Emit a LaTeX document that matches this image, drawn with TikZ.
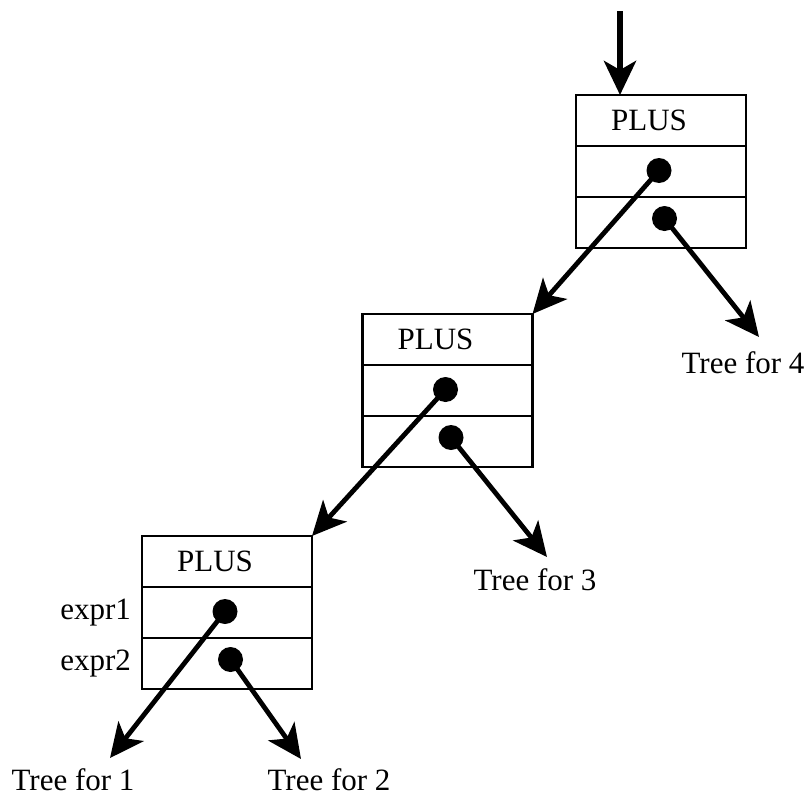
\documentclass[tikz,border=0pt]{standalone}
\usepackage{fontspec}
\setmainfont{Liberation Serif}
\usetikzlibrary{arrows.meta, positioning}

\tikzset{
  cell/.style={draw, line width=1.4pt, minimum width=85pt, minimum height=25.5pt, inner sep=0pt, outer sep=0pt},
  dot/.style={circle, fill, inner sep=0pt, minimum size=12.5pt},
  ptr/.style={line width=2.4pt, -{Stealth[length=17pt, width=16pt, inset=4.5pt]}},
  txt/.style={font=\fontsize{15.5}{18}\selectfont}
}

\begin{document}
\begin{tikzpicture}[x=0.5pt, y=-0.5pt]
  \useasboundingbox (0,0) rectangle (810,798);

  % three PLUS records, each with three cells
  \node[cell, label={[txt, xshift=-6pt]center:PLUS}] (a1) at (661,120.5) {};
  \node[cell, below=0pt of a1] (a2) {};
  \node[cell, below=0pt of a2] (a3) {};
  \node[cell, label={[txt, xshift=-6pt]center:PLUS}] (b1) at (447.5,339.5) {};
  \node[cell, below=0pt of b1] (b2) {};
  \node[cell, below=0pt of b2] (b3) {};
  \node[cell, label={[txt, xshift=-6pt]center:PLUS}] (c1) at (227,561.5) {};
  \node[cell, below=0pt of c1] (c2) {};
  \node[cell, below=0pt of c2] (c3) {};
  \node[txt, left=2pt of c2] (x1) {expr1};
  \node[txt, left=2pt of c3] (x2) {expr2};

  % pointer fields
  \node[dot] (a2d) at ([shift={(-1pt,0.5pt)}]a2.center) {};
  \node[dot] (a3d) at ([shift={(1.75pt,2pt)}]a3.center) {};
  \node[dot] (b2d) at ([shift={(-1pt,0.5pt)}]b2.center) {};
  \node[dot] (b3d) at ([shift={(1.75pt,2pt)}]b3.center) {};
  \node[dot] (c2d) at ([shift={(-1pt,0.5pt)}]c2.center) {};
  \node[dot] (c3d) at ([shift={(1.75pt,2pt)}]c3.center) {};

  % subtrees
  \coordinate (e4) at (759,337);
  \node[txt] (t4) at (743,363) {Tree for 4};
  \coordinate (e3) at (547,557);
  \node[txt] (t3) at (535,580) {Tree for 3};
  \coordinate (e1) at (110,758);
  \node[txt] (t1) at (73,780) {Tree for 1};
  \coordinate (e2) at (301,759);
  \node[txt] (t2) at (329,780) {Tree for 2};

  \coordinate (root) at (620,11);
  \draw[ptr, line width=3pt] (root) -- (root |- a1.north);
  \draw[ptr] (a2d.center) -- (b1.north east);
  \draw[ptr] (a3d.center) -- (e4);
  \draw[ptr] (b2d.center) -- (c1.north east);
  \draw[ptr] (b3d.center) -- (e3);
  \draw[ptr] (c2d.center) -- (e1);
  \draw[ptr] (c3d.center) -- (e2);
\end{tikzpicture}
\end{document}
